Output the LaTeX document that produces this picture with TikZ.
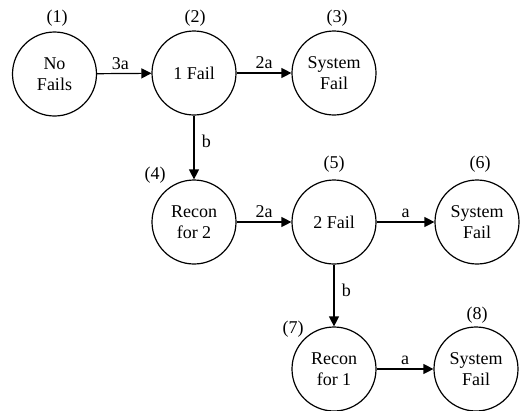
\documentclass[tikz,border=0pt]{standalone}
\usepackage{fontspec}
\setmainfont{Liberation Serif}
\usetikzlibrary{arrows.meta}
\begin{document}
\begin{tikzpicture}[x=1pt,y=-1pt,
  every node/.style={font=\fontsize{18}{21.5}\selectfont},
  state/.style={circle,draw,line width=1.2pt,minimum size=84pt,inner sep=0pt,align=center},
  arr/.style={line width=1.2pt,-{Triangle[length=10pt,width=10pt]}},
  elab/.style={midway,above}]
\useasboundingbox (0,0) rectangle (521,410);
\node[state] (n1) at (54.5,74) {No\\Fails};
\node[state] (n2) at (194,73) {1 Fail};
\node[state] (n3) at (334,73) {System\\Fail};
\node[state] (n4) at (194,222) {Recon\\for 2};
\node[state] (n5) at (334,222) {2 Fail};
\node[state] (n6) at (477,222) {System\\Fail};
\node[state] (n7) at (334,369) {Recon\\for 1};
\node[state] (n8) at (476,369) {System\\Fail};
\node (l1) at (57,18) {(1)};
\node (l2) at (195,18) {(2)};
\node (l3) at (337,18) {(3)};
\node (l4) at (155,175) {(4)};
\node (l5) at (334,164) {(5)};
\node (l6) at (480,164) {(6)};
\node (l7) at (293,329) {(7)};
\node (l8) at (477,315) {(8)};
\draw[arr] (n1) -- node[elab,xshift=-4pt] {3a} (n2);
\draw[arr] (n2) -- node[elab] {2a} (n3);
\draw[arr] (n2) -- node[pos=0.4,right=4pt] {b} (n4);
\draw[arr] (n4) -- node[elab] {2a} (n5);
\draw[arr] (n5) -- node[elab] {a} (n6);
\draw[arr] (n5) -- node[pos=0.41,right=4pt] {b} (n7);
\draw[arr] (n7) -- node[elab] {a} (n8);
\end{tikzpicture}
\end{document}
